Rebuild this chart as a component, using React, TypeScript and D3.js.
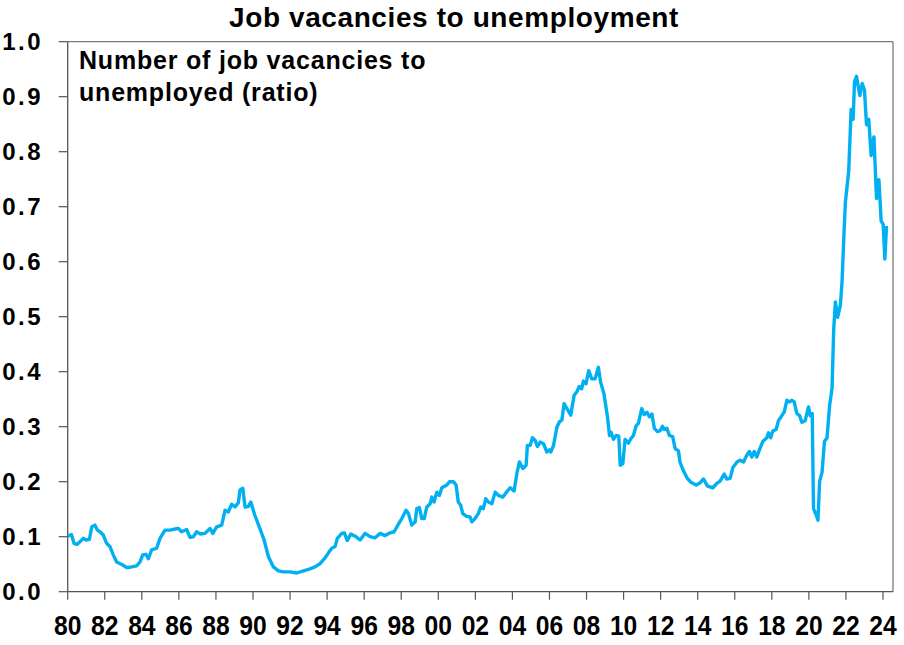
import React from "react";
import * as d3 from "d3";

// Decimal year of each observation
const years: number[] = [
  1980.0, 1980.2, 1980.34, 1980.5, 1980.66, 1980.85, 1981.0, 1981.17, 1981.3, 1981.47,
  1981.6, 1981.74, 1981.92, 1982.1, 1982.28, 1982.46, 1982.64, 1982.9, 1983.18, 1983.45,
  1983.72, 1983.9, 1984.05, 1984.22, 1984.35, 1984.53, 1984.8, 1984.98, 1985.25, 1985.52,
  1985.8, 1985.97, 1986.15, 1986.42, 1986.6, 1986.78, 1986.96, 1987.14, 1987.41, 1987.68,
  1987.83, 1988.04, 1988.31, 1988.49, 1988.67, 1988.85, 1989.03, 1989.21, 1989.3, 1989.45,
  1989.57, 1989.75, 1989.88, 1990.1, 1990.34, 1990.6, 1990.83, 1991.1, 1991.37, 1991.64,
  1992.0, 1992.36, 1992.72, 1993.04, 1993.35, 1993.62, 1993.9, 1994.1, 1994.25, 1994.43,
  1994.55, 1994.79, 1994.93, 1995.09, 1995.28, 1995.51, 1995.78, 1996.05, 1996.32, 1996.59,
  1996.86, 1997.13, 1997.4, 1997.62, 1997.85, 1998.03, 1998.26, 1998.39, 1998.57, 1998.75,
  1998.84, 1998.98, 1999.11, 1999.24, 1999.38, 1999.56, 1999.65, 1999.77, 1999.92, 2000.06,
  2000.19, 2000.46, 2000.6, 2000.82, 2000.96, 2001.08, 2001.21, 2001.32, 2001.53, 2001.71,
  2001.81, 2001.98, 2002.16, 2002.29, 2002.43, 2002.56, 2002.7, 2002.89, 2003.07, 2003.25,
  2003.48, 2003.66, 2003.88, 2004.09, 2004.24, 2004.38, 2004.56, 2004.74, 2004.81, 2004.96,
  2005.08, 2005.23, 2005.35, 2005.5, 2005.68, 2005.86, 2006.0, 2006.07, 2006.22, 2006.4,
  2006.54, 2006.67, 2006.79, 2006.94, 2007.15, 2007.33, 2007.47, 2007.61, 2007.74, 2007.83,
  2007.97, 2008.12, 2008.28, 2008.46, 2008.64, 2008.76, 2008.94, 2009.13, 2009.24, 2009.33,
  2009.45, 2009.6, 2009.74, 2009.82, 2009.96, 2010.08, 2010.26, 2010.39, 2010.53, 2010.68,
  2010.8, 2010.98, 2011.11, 2011.26, 2011.4, 2011.53, 2011.66, 2011.83, 2011.98, 2012.1,
  2012.19, 2012.34, 2012.47, 2012.65, 2012.78, 2012.96, 2013.05, 2013.2, 2013.42, 2013.63,
  2013.92, 2014.13, 2014.31, 2014.53, 2014.82, 2015.03, 2015.21, 2015.43, 2015.57, 2015.75,
  2015.9, 2016.12, 2016.29, 2016.47, 2016.65, 2016.79, 2016.92, 2017.05, 2017.19, 2017.33,
  2017.51, 2017.73, 2017.82, 2017.94, 2018.05, 2018.23, 2018.36, 2018.54, 2018.67, 2018.81,
  2018.96, 2019.08, 2019.21, 2019.35, 2019.5, 2019.62, 2019.8, 2019.98, 2020.07, 2020.18,
  2020.25, 2020.4, 2020.49, 2020.58, 2020.71, 2020.84, 2020.98, 2021.12, 2021.25, 2021.34,
  2021.43, 2021.55, 2021.7, 2021.79, 2021.88, 2021.97, 2022.15, 2022.28, 2022.39, 2022.46,
  2022.57, 2022.75, 2022.88, 2023.0, 2023.11, 2023.23, 2023.36, 2023.51, 2023.65, 2023.78,
  2023.9, 2024.01, 2024.1, 2024.19,
];

// Job vacancies to unemployed ratio
const ratios: number[] = [
  0.101, 0.104, 0.088, 0.086, 0.091, 0.097, 0.094, 0.095, 0.118, 0.121,
  0.112, 0.109, 0.103, 0.088, 0.082, 0.067, 0.054, 0.05, 0.044, 0.045,
  0.047, 0.054, 0.067, 0.068, 0.06, 0.076, 0.079, 0.097, 0.112, 0.112,
  0.114, 0.115, 0.109, 0.113, 0.099, 0.1, 0.109, 0.105, 0.106, 0.115,
  0.106, 0.118, 0.121, 0.148, 0.145, 0.159, 0.154, 0.162, 0.185, 0.188,
  0.154, 0.155, 0.163, 0.139, 0.118, 0.094, 0.064, 0.045, 0.038, 0.036,
  0.036, 0.034, 0.038, 0.041, 0.045, 0.051, 0.062, 0.072, 0.079, 0.082,
  0.097, 0.106, 0.107, 0.093, 0.105, 0.101, 0.094, 0.106, 0.1, 0.098,
  0.106, 0.102, 0.107, 0.109, 0.123, 0.133, 0.148, 0.142, 0.121, 0.127,
  0.151, 0.153, 0.133, 0.133, 0.154, 0.16, 0.172, 0.163, 0.181, 0.175,
  0.189, 0.194, 0.2, 0.2, 0.194, 0.163, 0.157, 0.142, 0.137, 0.136,
  0.127, 0.133, 0.142, 0.154, 0.151, 0.169, 0.163, 0.16, 0.181, 0.175,
  0.172, 0.18, 0.189, 0.183, 0.215, 0.236, 0.224, 0.23, 0.266, 0.266,
  0.28, 0.275, 0.264, 0.272, 0.269, 0.254, 0.258, 0.254, 0.266, 0.299,
  0.309, 0.312, 0.342, 0.333, 0.321, 0.357, 0.363, 0.373, 0.369, 0.383,
  0.378, 0.402, 0.387, 0.387, 0.408, 0.381, 0.36, 0.318, 0.284, 0.29,
  0.277, 0.284, 0.283, 0.23, 0.233, 0.277, 0.27, 0.278, 0.284, 0.302,
  0.306, 0.333, 0.322, 0.326, 0.318, 0.323, 0.297, 0.291, 0.293, 0.301,
  0.295, 0.297, 0.284, 0.282, 0.26, 0.256, 0.235, 0.222, 0.207, 0.199,
  0.194, 0.198, 0.205, 0.192, 0.189, 0.197, 0.201, 0.214, 0.205, 0.206,
  0.226, 0.236, 0.239, 0.236, 0.248, 0.255, 0.245, 0.255, 0.245, 0.258,
  0.273, 0.28, 0.289, 0.28, 0.292, 0.295, 0.311, 0.32, 0.327, 0.348,
  0.345, 0.348, 0.345, 0.324, 0.32, 0.308, 0.311, 0.336, 0.32, 0.324,
  0.151, 0.139, 0.13, 0.201, 0.217, 0.273, 0.28, 0.339, 0.37, 0.477,
  0.527, 0.499, 0.521, 0.564, 0.64, 0.708, 0.765, 0.877, 0.859, 0.927,
  0.937, 0.902, 0.924, 0.912, 0.849, 0.859, 0.793, 0.827, 0.715, 0.749,
  0.674, 0.668, 0.605, 0.665,
];

const xTickYears: number[] = d3.range(1980, 2025, 2);
const xTickLabels: string[] = xTickYears.map((y) => String(y % 100).padStart(2, "0"));
const yTicks: number[] = [0, 0.1, 0.2, 0.3, 0.4, 0.5, 0.6, 0.7, 0.8, 0.9, 1.0];

const title = "Job vacancies to unemployment";
const noteLines: string[] = ["Number of job vacancies to", "unemployed (ratio)"];

const W = 904;
const H = 645;
const left = 67.7;
const right = 893;
const top = 41.7;
const bottom = 591.7;

const FONT = "Arial, 'Liberation Sans', sans-serif";

export default function App() {
  const x = d3.scaleLinear().domain([1980, 2024]).range([left, 883]);
  const y = d3.scaleLinear().domain([0, 1]).range([bottom, top]);
  const data = years.map((yr, i) => [yr, ratios[i]] as [number, number]);
  const line = d3
    .line<[number, number]>()
    .x((d) => x(d[0]))
    .y((d) => y(d[1]));

  const axisColor = "#7a7a7a";

  return (
    <svg
      width={W}
      height={H}
      style={{ position: "absolute", left: 0, top: 0, background: "#fff" }}
      fontFamily={FONT}
    >
      <rect x={0} y={0} width={W} height={H} fill="#fff" />
      {/* frame */}
      <line x1={left} x2={right} y1={top} y2={top} stroke={axisColor} strokeWidth={1.3} />
      <line x1={right} x2={right} y1={top} y2={bottom} stroke={axisColor} strokeWidth={1.3} />
      <line x1={left} x2={left} y1={top} y2={bottom} stroke="#555" strokeWidth={1.3} />
      <line x1={left} x2={right} y1={bottom} y2={bottom} stroke="#555" strokeWidth={1.3} />

      {/* y ticks + labels */}
      {yTicks.map((t) => (
        <g key={t}>
          <line x1={left - 9} x2={left} y1={y(t)} y2={y(t)} stroke="#555" strokeWidth={1.2} />
          <text
            x={43}
            y={y(t) + 8.5}
            textAnchor="end"
            fontSize={24}
            fontWeight="bold"
            letterSpacing={2.5}
            fill="#000"
          >
            {t.toFixed(1)}
          </text>
        </g>
      ))}

      {/* x ticks + labels */}
      {xTickYears.map((yr, i) => (
        <g key={yr}>
          <line x1={x(yr)} x2={x(yr)} y1={bottom} y2={bottom + 8} stroke="#555" strokeWidth={1.2} />
          <text
            transform={`translate(${x(yr)},635) scale(0.88,1)`}
            textAnchor="middle"
            fontSize={28}
            fontWeight="bold"
            fill="#000"
          >
            {xTickLabels[i]}
          </text>
        </g>
      ))}

      {/* series */}
      <path
        d={line(data) || ""}
        fill="none"
        stroke="#00B0F0"
        strokeWidth={3.4}
        strokeLinejoin="round"
      />

      {/* title */}
      <text x={454} y={27} textAnchor="middle" fontSize={28} fontWeight="bold" letterSpacing={0.6} fill="#000">
        {title}
      </text>

      {/* note */}
      {noteLines.map((l, i) => (
        <text key={i} x={79} y={69 + i * 32} fontSize={25} fontWeight="bold" letterSpacing={0.8} fill="#000">
          {l}
        </text>
      ))}
    </svg>
  );
}
